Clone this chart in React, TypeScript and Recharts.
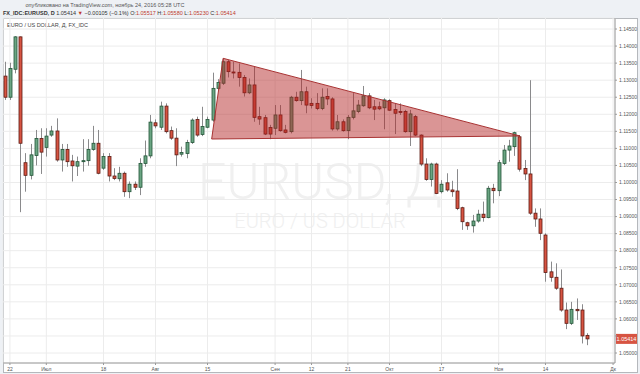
import React from "react"
import { ComposedChart, Bar, Scatter, XAxis, YAxis, CartesianGrid, ReferenceLine } from "recharts"

// daily EURUSD candles, 21 Jun .. 24 Nov 2016
const opens = [
  1.1312, 1.1250, 1.1332, 1.1427, 1.1058, 1.1021, 1.1079, 1.1129, 1.1103, 1.1139,
  1.1151, 1.1066, 1.1097, 1.1063, 1.1048, 1.1061, 1.1064, 1.1097, 1.1115, 1.1042,
  1.1076, 1.1019, 1.1011, 1.1027, 1.0973, 1.0995, 1.0986, 1.1056, 1.1078, 1.1175,
  1.1162, 1.1224, 1.1152, 1.1130, 1.1083, 1.1085, 1.1117, 1.1185, 1.1141, 1.1162,
  1.1183, 1.1276, 1.1291, 1.1354, 1.1324, 1.1323, 1.1308, 1.1263, 1.1286, 1.1193,
  1.1190, 1.1161, 1.1159, 1.1198, 1.1154, 1.1149, 1.1250, 1.1240, 1.1266, 1.1232,
  1.1232, 1.1217, 1.1252, 1.1245, 1.1157, 1.1178, 1.1152, 1.1191, 1.1208, 1.1225,
  1.1254, 1.1222, 1.1222, 1.1219, 1.1240, 1.1214, 1.1208, 1.1208, 1.1149, 1.1193,
  1.1139, 1.1054, 1.1009, 1.1054, 1.0973, 1.0999, 1.0978, 1.0975, 1.0926, 1.0882,
  1.0873, 1.0887, 1.0907, 1.0897, 1.0983, 1.0976, 1.1056, 1.1095, 1.1105, 1.1134,
  1.1041, 1.1025, 1.0910, 1.0893, 1.0846, 1.0738, 1.0722, 1.0690, 1.0626, 1.0587,
  1.0628, 1.0626, 1.05517,
]
const highs = [
  1.1354, 1.1351, 1.1429, 1.1428, 1.1086, 1.1113, 1.1154, 1.1159, 1.1159, 1.1166,
  1.1188, 1.1113, 1.1113, 1.1081, 1.1076, 1.1127, 1.1127, 1.1166, 1.1154, 1.1086,
  1.1086, 1.1042, 1.1046, 1.1032, 1.1003, 1.1003, 1.1071, 1.1123, 1.1198, 1.1185,
  1.1237, 1.1232, 1.1164, 1.1159, 1.1105, 1.1125, 1.1188, 1.1193, 1.1222, 1.1193,
  1.1322, 1.1303, 1.1364, 1.1359, 1.1354, 1.1349, 1.1315, 1.1305, 1.1339, 1.1222,
  1.1198, 1.1169, 1.1227, 1.1227, 1.1169, 1.1254, 1.1266, 1.1330, 1.1281, 1.1247,
  1.1262, 1.1276, 1.1276, 1.1250, 1.1198, 1.1185, 1.1198, 1.1262, 1.1242, 1.1283,
  1.1262, 1.1242, 1.1237, 1.1247, 1.1244, 1.1232, 1.1232, 1.1213, 1.1213, 1.1198,
  1.1141, 1.1071, 1.1058, 1.1058, 1.1007, 1.1027, 1.1005, 1.1039, 1.0929, 1.0885,
  1.0905, 1.0920, 1.0944, 1.0990, 1.0996, 1.1066, 1.1110, 1.1125, 1.1149, 1.1139,
  1.1066, 1.1300, 1.0924, 1.0924, 1.0851, 1.0768, 1.0763, 1.0745, 1.0648, 1.0650,
  1.0660, 1.0643, 1.0558,
]
const lows = [
  1.1242, 1.1242, 1.1320, 1.0913, 1.0973, 1.1009, 1.1050, 1.1025, 1.1076, 1.1134,
  1.1061, 1.1032, 1.1046, 1.1003, 1.1019, 1.1032, 1.1049, 1.1093, 1.1024, 1.1037,
  1.1003, 1.1007, 1.1003, 1.0958, 1.0954, 1.0978, 1.0963, 1.1046, 1.1071, 1.1159,
  1.1154, 1.1144, 1.1125, 1.1048, 1.1076, 1.1071, 1.1113, 1.1134, 1.1136, 1.1159,
  1.1178, 1.1271, 1.1286, 1.1308, 1.1305, 1.1281, 1.1252, 1.1259, 1.1178, 1.1169,
  1.1139, 1.1127, 1.1139, 1.1149, 1.1144, 1.1144, 1.1237, 1.1227, 1.1203, 1.1217,
  1.1212, 1.1212, 1.1227, 1.1152, 1.1152, 1.1149, 1.1127, 1.1185, 1.1203, 1.1222,
  1.1215, 1.1183, 1.1212, 1.1156, 1.1210, 1.1142, 1.1198, 1.1146, 1.1107, 1.1136,
  1.1048, 1.1005, 1.0988, 1.0966, 1.0968, 1.0973, 1.0958, 1.0919, 1.0861, 1.0861,
  1.0853, 1.0882, 1.0885, 1.0895, 1.0939, 1.0960, 1.1051, 1.1061, 1.1078, 1.1032,
  1.1007, 1.0905, 1.0870, 1.0831, 1.0709, 1.0709, 1.0685, 1.0621, 1.0570, 1.0582,
  1.0597, 1.0528, 1.0523,
]
const closes = [
  1.1250, 1.1334, 1.1427, 1.1115, 1.1021, 1.1081, 1.1129, 1.1089, 1.1136, 1.1151,
  1.1066, 1.1097, 1.1061, 1.1049, 1.1061, 1.1064, 1.1097, 1.1115, 1.1027, 1.1076,
  1.1019, 1.1012, 1.1027, 1.0973, 1.0995, 1.0986, 1.1056, 1.1078, 1.1177, 1.1166,
  1.1224, 1.1149, 1.1130, 1.1081, 1.1088, 1.1117, 1.1183, 1.1139, 1.1164, 1.1185,
  1.1276, 1.1293, 1.1354, 1.1325, 1.1322, 1.1308, 1.1263, 1.1286, 1.1191, 1.1186,
  1.1142, 1.1142, 1.1198, 1.1152, 1.1147, 1.1250, 1.1240, 1.1266, 1.1227, 1.1226,
  1.1217, 1.1250, 1.1245, 1.1157, 1.1178, 1.1152, 1.1191, 1.1210, 1.1227, 1.1254,
  1.1219, 1.1215, 1.1216, 1.1242, 1.1212, 1.1203, 1.1205, 1.1149, 1.1201, 1.1139,
  1.1054, 1.1009, 1.1054, 1.0968, 1.0995, 1.0978, 1.0973, 1.0924, 1.0885, 1.0873,
  1.0887, 1.0907, 1.0897, 1.0983, 1.0976, 1.1058, 1.1095, 1.1107, 1.1146, 1.1039,
  1.1025, 1.0910, 1.0893, 1.0851, 1.0736, 1.0722, 1.0690, 1.0626, 1.0587, 1.0628,
  1.0624, 1.0550, 1.05414,
]

// time axis: bar index -> label
const tickIdx = [1, 8, 19, 29, 39, 52, 59, 66, 74, 84, 95, 104, 117]
const tickLabels = ["22", "Июл", "18", "Авг", "15", "Сен", "12", "21", "Окт", "17", "Ноя", "14", "Дк"]

const priceTicks = [
  1.05, 1.055, 1.06, 1.065, 1.07, 1.075, 1.08, 1.085, 1.09, 1.095,
  1.1, 1.105, 1.11, 1.115, 1.12, 1.125, 1.13, 1.135, 1.14, 1.145,
]

// triangle drawing: bar index and price of each corner
const triIdx = [39.8, 42.0, 99.1]
const triPrice = [1.11275, 1.13641, 1.11363]

const lastPrice = 1.05414

const data = opens.map((o, i) => ({
  i,
  open: o,
  high: highs[i],
  low: lows[i],
  close: closes[i],
  range: [lows[i], highs[i]],
}))

const triData = triIdx.map((t, k) => ({ i: t, p: triPrice[k] }))

const UP = "#6ba583"
const UP_EDGE = "#225437"
const DOWN = "#d75442"
const DOWN_EDGE = "#5b1a13"
const WICK = "#8a8a8c"
const FONT = "'Liberation Sans', Arial, sans-serif"

const Candle = (props: any) => {
  const { x, y, width, height, payload } = props
  if (!payload) return null
  const { open, close, high, low } = payload
  const top = Math.min(y, y + height)
  const h = Math.abs(height)
  const py = (v: number) => top + ((high - v) / (high - low)) * h
  const cx = Math.round(x + width / 2) + 0.5
  const up = close >= open
  const bTop = py(Math.max(open, close))
  const bH = Math.max(1, py(Math.min(open, close)) - bTop)
  return (
    <g>
      <line x1={cx} x2={cx} y1={top} y2={top + h} stroke={WICK} strokeWidth={1} />
      <rect
        x={cx - 1.5}
        y={bTop}
        width={3}
        height={bH}
        fill={up ? UP : DOWN}
        stroke={up ? UP_EDGE : DOWN_EDGE}
        strokeWidth={0.8}
      />
    </g>
  )
}

const TriangleFill = (props: any) => {
  const pts = (props.points || []).map((p: any) => `${p.x},${p.y}`).join(" ")
  return <polygon points={pts} fill="rgba(178, 34, 34, 0.48)" stroke="#a83232" strokeWidth={1} />
}

const PriceTag = (props: any) => {
  const vb = props.viewBox
  if (!vb) return null
  const left = vb.x + vb.width + 1
  return (
    <g>
      <rect x={left} y={vb.y - 5} width={21} height={10} fill="#d75442" />
      <text x={left + 10.5} y={vb.y + 2} textAnchor="middle" fontSize={5.5} fill="#fff" fontFamily={FONT}>
        {lastPrice.toFixed(5)}
      </text>
    </g>
  )
}

export default function App() {
  return (
    <div style={{ position: "absolute", left: 0, top: 0, width: 640, height: 374, background: "#eef1f5", overflow: "hidden" }}>
      <div
        style={{
          position: "absolute",
          left: 3,
          top: 18,
          width: 633,
          height: 353,
          background: "#fff",
          border: "1px solid #b5b8bc",
        }}
      />
      <div
        style={{
          position: "absolute",
          left: 0,
          width: 640,
          top: 157,
          textAlign: "center",
          color: "#f0f0f0",
          fontFamily: "Roboto, sans-serif",
          fontWeight: 300,
        }}
      >
        <div style={{ fontSize: 50, lineHeight: "50px", height: 54 }}>EURUSD, Д</div>
        <div style={{ fontSize: 20, lineHeight: "20px", height: 20 }}>EURO / US DOLLAR</div>
      </div>
      <svg width={640} height={30} style={{ position: "absolute", left: 0, top: 0 }}>
        <text x={105} y={7} textAnchor="middle" fontSize={5.5} fill="#555" fontFamily={FONT}>
          опубликовано на TradingView.com, ноябрь 24, 2016 05:28 UTC
        </text>
        <text x={3} y={15} fontSize={5.5} fill="#333" fontFamily={FONT}>
          <tspan fontWeight="bold">FX_IDC:EURUSD, D</tspan>
          <tspan> 1.05414 </tspan>
          <tspan fill="#c0392b">▼</tspan>
          <tspan> −0.00105 (−0.1%) O:</tspan>
          <tspan fill="#c0392b">1.05517</tspan>
          <tspan> H:</tspan>
          <tspan fill="#c0392b">1.05580</tspan>
          <tspan> L:</tspan>
          <tspan fill="#c0392b">1.05230</tspan>
          <tspan> C:</tspan>
          <tspan fill="#c0392b">1.05414</tspan>
        </text>
        <text x={7} y={27} fontSize={5.5} fill="#444" fontFamily={FONT}>
          EURO / US DOLLAR, Д, FX_IDC
        </text>
      </svg>
      <div style={{ position: "absolute", left: 0, top: 0 }}>
        <ComposedChart width={640} height={374} data={data} margin={{ top: 18, right: 3, bottom: 0, left: 3 }}>
          <CartesianGrid stroke="#ececec" strokeWidth={1} />
          <XAxis
            dataKey="i"
            type="number"
            domain={[-0.33, 117.37]}
            allowDataOverflow
            ticks={tickIdx}
            tickFormatter={(v: number) => tickLabels[tickIdx.indexOf(v)] ?? ""}
            height={11}
            stroke="#9a9a9a"
            tickSize={2}
            tick={{ fontSize: 5, fill: "#555", fontFamily: FONT }}
            interval={0}
          />
          <YAxis
            orientation="right"
            type="number"
            domain={[1.04707, 1.14823]}
            allowDataOverflow
            ticks={priceTicks}
            tickFormatter={(v: number) => (Math.abs(v - 1.055) < 1e-6 ? "" : v.toFixed(5))}
            width={22}
            stroke="#9a9a9a"
            tickSize={2}
            tick={{ fontSize: 5, fill: "#555", fontFamily: FONT }}
            interval={0}
          />
          <Bar dataKey="range" barSize={4} isAnimationActive={false} shape={Candle} />
          <Scatter
            data={triData}
            dataKey="p"
            isAnimationActive={false}
            line={TriangleFill}
            shape={() => <g />}
          />
          <ReferenceLine y={lastPrice} stroke="none" label={<PriceTag />} />
        </ComposedChart>
      </div>
    </div>
  )
}
